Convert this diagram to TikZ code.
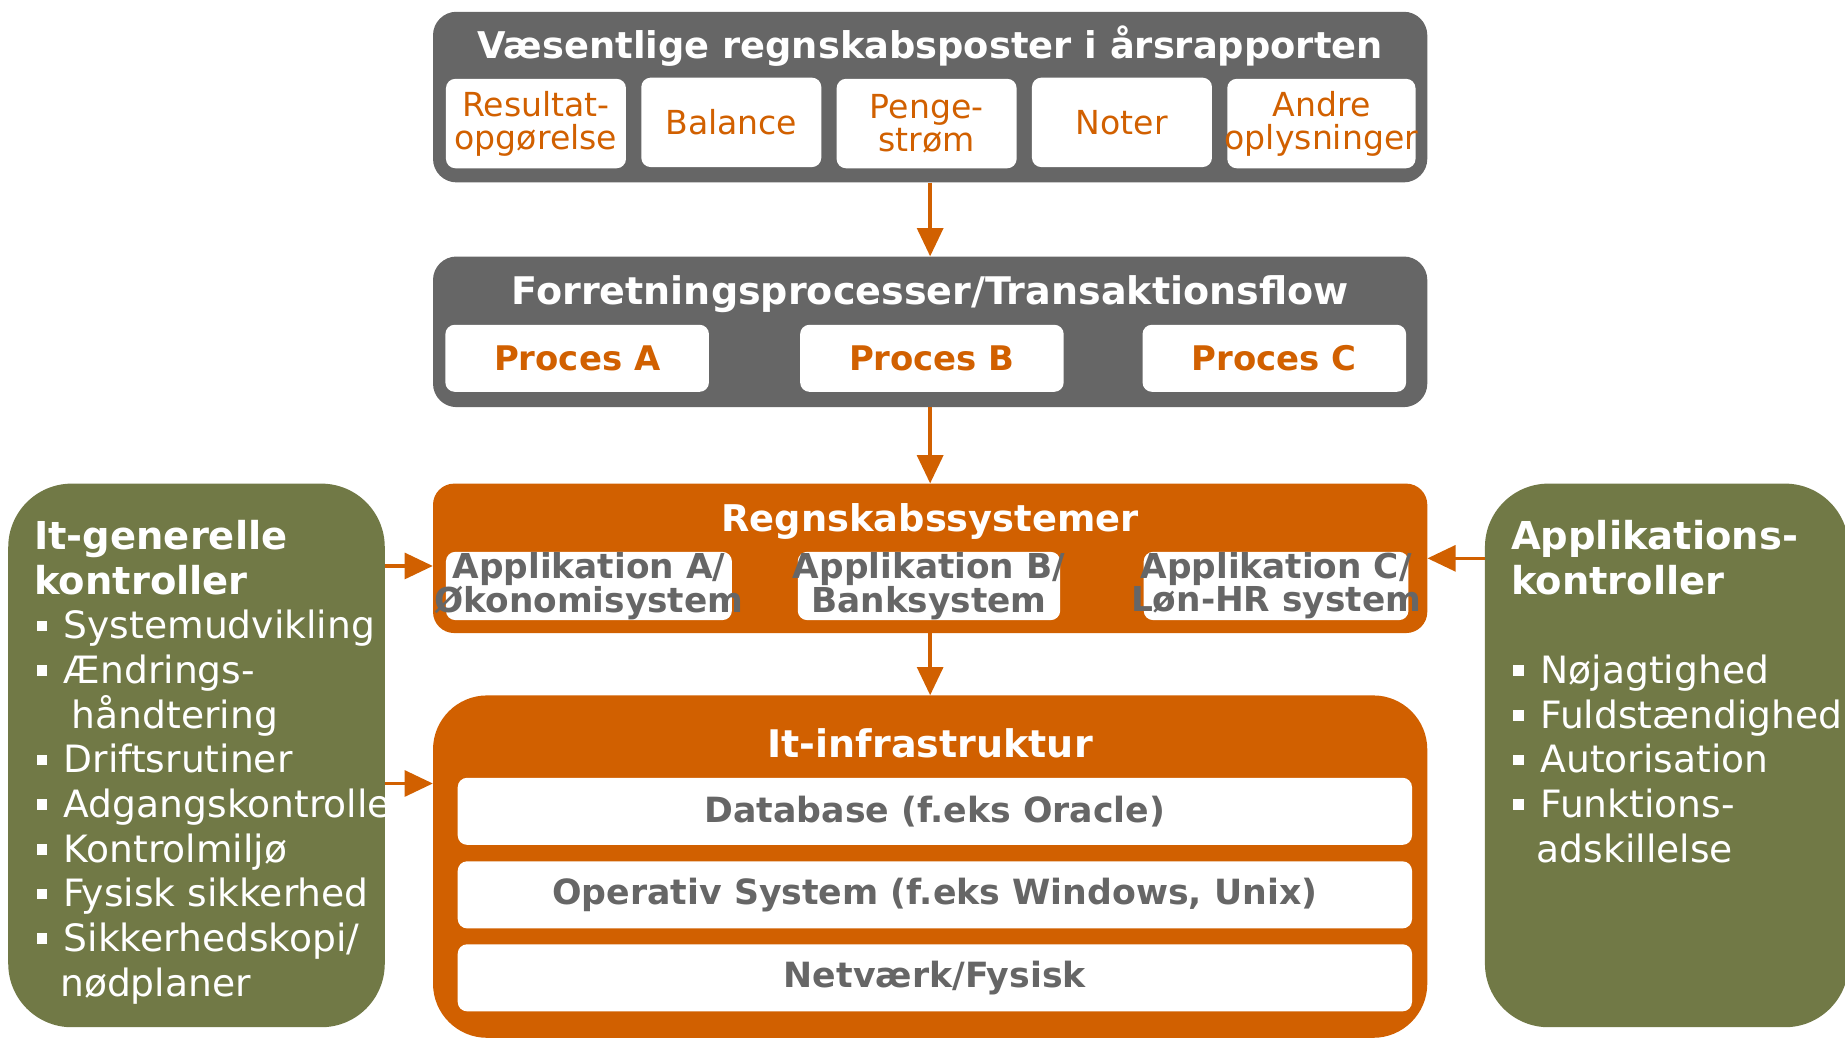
\documentclass[tikz,border=0pt]{standalone}
\usepackage{fontspec}
\setmainfont{DejaVu Sans}
\usetikzlibrary{arrows.meta}
\definecolor{cGray}{RGB}{102,102,102}
\definecolor{cOrange}{RGB}{209,96,0}
\definecolor{cGreen}{RGB}{113,121,70}
\newcommand\fs[2]{\fontsize{#1pt}{#2pt}\selectfont}
\newcommand\bul{\makebox[12.5mm][l]{\hspace{1mm}\rule[3.2mm]{4.5mm}{4.5mm}}}
\newcommand\gtitl{\bfseries\fs{46.5}{54}}
\begin{document}
\begin{tikzpicture}[x=0.5mm, y=-0.5mm,
  panel/.style={rounded corners=10mm, inner sep=0pt, minimum width=422.5mm},
  itembox/.style={fill=white, rounded corners=4mm, inner sep=0pt, minimum height=38mm, text=cOrange, font={\fs{40}{40}}, align=center},
  procbox/.style={fill=white, rounded corners=4mm, inner sep=0pt, minimum width=112mm, minimum height=28.5mm, text=cOrange, font={\bfseries\fs{41}{41}}},
  appbox/.style={fill=white, rounded corners=4mm, inner sep=0pt, minimum height=29mm, text=cGray, font={\bfseries\fs{41.5}{40}}, align=center},
  infrabox/.style={fill=white, rounded corners=4mm, inner sep=0pt, minimum width=405.5mm, minimum height=28.5mm, text=cGray, font={\bfseries\fs{42}{42}}},
  titletext/.style={text=white, font={\bfseries\fs{44.5}{44.5}}, inner sep=0pt, anchor=base},
  greenbox/.style={fill=cGreen, rounded corners=27mm, inner sep=0pt, minimum height=231mm},
  greentext/.style={text=white, inner sep=0pt, anchor=base west, font={\fs{45.5}{54}}},
  arr/.style={draw=cOrange, line width=1.5mm, -{Triangle[length=12mm,width=11mm]}}
]
\path[use as bounding box, clip] (0,0) rectangle (1568,883);

% top panel
\node[panel, fill=cGray, minimum height=72.5mm] (top) at (790.5,82.5) {};
\node[titletext] (toptitle) at (790.5,50) {Væsentlige regnskabsposter i årsrapporten};
\node[itembox, minimum width=76.5mm] (i1) at (455.5,105) {Resultat-\\opgørelse};
\node[itembox, minimum width=76.5mm] (i2) at (621.5,104) {Balance};
\node[itembox, minimum width=76.5mm] (i3) at (787.5,105) {Penge-\\strøm};
\node[itembox, minimum width=76.5mm] (i4) at (953.5,104) {Noter};
\node[itembox, minimum width=80mm] (i5) at (1123,105) {Andre\\\makebox[0pt]{oplysninger}};

% process panel
\node[panel, fill=cGray, minimum height=64mm] (proc) at (790.5,282) {};
\node[titletext, font={\bfseries\fs{46}{46}}] (proctitle) at (790.5,259) {Forretningsprocesser/Transaktionsflow};
\node[procbox] (pA) at (490.5,304.5) {Proces A};
\node[procbox] (pB) at (792,304.5) {Proces B};
\node[procbox] (pC) at (1083,304.5) {Proces C};

% accounting systems
\node[panel, fill=cOrange, rounded corners=9mm, minimum height=63.5mm] (reg) at (790.5,474.5) {};
\node[titletext] (regtitle) at (790.5,452) {Regnskabssystemer};
\node[appbox, minimum width=121.5mm] (aA) at (500.5,498) {\makebox[0pt]{Applikation A/}\\\makebox[0pt]{Økonomisystem}};
\node[appbox, minimum width=111.5mm] (aB) at (789.5,498) {\makebox[0pt]{Applikation B/}\\\makebox[0pt]{Banksystem}};
\node[appbox, minimum width=112.5mm] (aC) at (1084.5,498) {\makebox[0pt]{Applikation C/}\\\makebox[0pt]{Løn-HR system}};

% infrastructure
\node[panel, fill=cOrange, rounded corners=23mm, minimum height=145.5mm] (infra) at (790.5,736.5) {};
\node[titletext, font={\bfseries\fs{46}{46}}] (infratitle) at (790.5,644) {It-infrastruktur};
\node[infrabox] (db) at (794.5,689.5) {Database (f.eks Oracle)};
\node[infrabox] (os) at (794.5,760.5) {Operativ System (f.eks Windows, Unix)};
\node[infrabox] (net) at (794.5,831) {Netværk/Fysisk};

% green side panels
\node[greenbox, minimum width=160mm] (lg) at (167,642) {};
\node[greentext] (lgt) at (29,467) {\parbox[t]{200mm}{\raggedright
{\gtitl It-generelle}\\
{\gtitl kontroller}\\
\bul Systemudvikling\\
\bul Ændrings-\\
\hspace*{16mm}håndtering\\
\bul Driftsrutiner\\
\bul Adgangskontrolle\\
\bul Kontrolmiljø\\
\bul Fysisk sikkerhed\\
\bul Sikkerhedskopi/\\
\hspace*{11mm}nødplaner}};

\node[greenbox, minimum width=154.5mm] (rg) at (1416.5,642) {};
\node[greentext] (rgt) at (1284,467) {\parbox[t]{200mm}{\raggedright
{\gtitl Applikations-}\\
{\gtitl kontroller}\\
\mbox{}\\
\bul Nøjagtighed\\
\bul Fuldstændighed\\
\bul Autorisation\\
\bul Funktions-\\
\hspace*{11mm}adskillelse}};

% connectors
\draw[arr] (top.south) -- (proc.north);
\draw[arr] (proc.south) -- (reg.north);
\draw[arr] (reg.south) -- (infra.north);
\coordinate (ra) at ([yshift=-3.25mm]reg.west);
\draw[arr] (ra -| lg.east) -- (ra);
\coordinate (ia) at ([yshift=-37.5mm]infra.north west);
\draw[arr] (ia -| lg.east) -- (ia);
\draw[arr] (rg.west |- reg.east) -- (reg.east);
\end{tikzpicture}
\end{document}
